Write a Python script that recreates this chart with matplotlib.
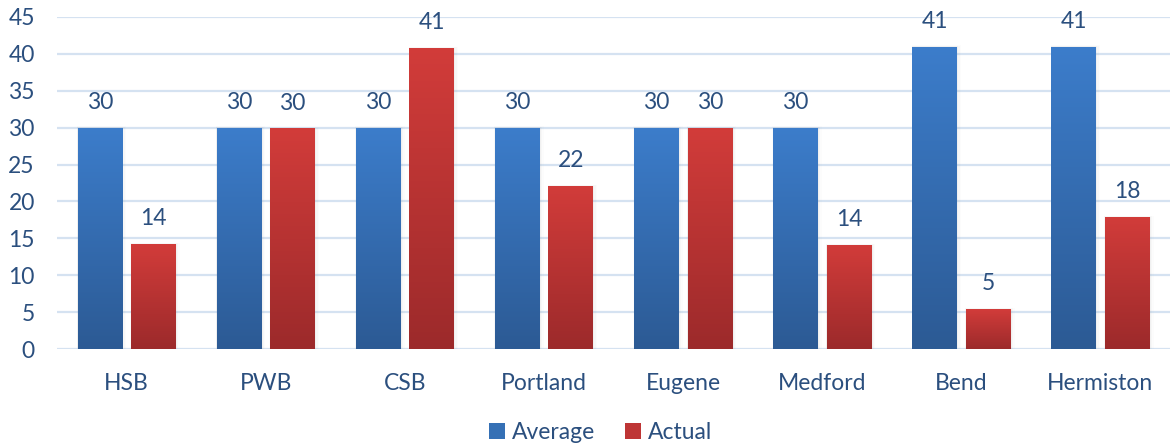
import numpy as np
import matplotlib
matplotlib.use("Agg")
import matplotlib.pyplot as plt
from matplotlib.colors import LinearSegmentedColormap
from matplotlib.patches import Rectangle

# Data
categories = ["HSB", "PWB", "CSB", "Portland", "Eugene", "Medford", "Bend", "Hermiston"]
average = [30, 30, 30, 30, 30, 30, 41, 41]
actual = [14.2, 29.9, 40.8, 22.1, 30.0, 14.1, 5.4, 17.9]
series_names = ["Average", "Actual"]
yticks = [0, 5, 10, 15, 20, 25, 30, 35, 40, 45]

text_color = "#2B4F7E"
grid_color = "#D5E2F1"
blue_top, blue_bottom = "#3C7DCB", "#2C5A94"
red_top, red_bottom = "#D23C3A", "#9C2A2B"

plt.rcParams["font.family"] = ["Lato", "DejaVu Sans"]
FS = 16.5

fig = plt.figure(figsize=(11.7, 4.45), dpi=100)
ax = fig.add_axes([0.0487, 0.2157, 0.9513, 0.7461])

x = np.arange(len(categories))
width = 0.32
offset = 0.1925


def gradient_bars(bars, top, bottom):
    cmap = LinearSegmentedColormap.from_list("g", [bottom, top])
    grad = np.linspace(0, 1, 256).reshape(-1, 1)
    for b in bars:
        x0, y0 = b.get_x(), b.get_y()
        w, h = b.get_width(), b.get_height()
        # soft drop shadow
        for k, a in enumerate([0.05, 0.035, 0.02]):
            d = 0.006 * (k + 1)
            ax.add_patch(Rectangle((x0 - d * 0.3, y0), w + 2 * d, h + d * 10,
                                   facecolor="#7F7F7F", edgecolor="none",
                                   alpha=a, zorder=2))
        im = ax.imshow(grad, cmap=cmap, aspect="auto", origin="lower",
                       extent=[x0, x0 + w, y0, y0 + h], zorder=3,
                       interpolation="bilinear")
        im.set_clip_path(b)
        b.set_facecolor("none")


b1 = ax.bar(x - offset, average, width, zorder=3, edgecolor="none")
b2 = ax.bar(x + offset, actual, width, zorder=3, edgecolor="none")
gradient_bars(b1, blue_top, blue_bottom)
gradient_bars(b2, red_top, red_bottom)

for bars, vals in ((b1, average), (b2, actual)):
    for b, v in zip(bars, vals):
        ax.text(b.get_x() + b.get_width() / 2, v + 2.0, f"{v:.0f}",
                ha="center", va="bottom", fontsize=FS, color=text_color, zorder=5)

ax.set_xlim(-0.5, len(categories) - 0.5)
ax.set_ylim(0, 45)
ax.set_yticks(yticks)
ax.set_xticks(x)
ax.set_xticklabels(categories)
ax.tick_params(axis="both", length=0, labelsize=FS, labelcolor=text_color)
ax.tick_params(axis="x", pad=17)
ax.tick_params(axis="y", pad=16)
ax.yaxis.grid(True, color=grid_color, linewidth=1.6, zorder=0)
ax.set_axisbelow(True)
for s in ax.spines.values():
    s.set_visible(False)

handles = [Rectangle((0, 0), 1, 1, facecolor=c) for c in ("#3570B5", "#BE3535")]
fig.legend(handles, series_names, loc="center", bbox_to_anchor=(0.513, 0.027),
           ncol=2, frameon=False, fontsize=FS, handlelength=0.7,
           handleheight=0.7, handletextpad=0.3, columnspacing=1.3,
           labelcolor=text_color)

fig.savefig("out.png", dpi=100, facecolor="white")
